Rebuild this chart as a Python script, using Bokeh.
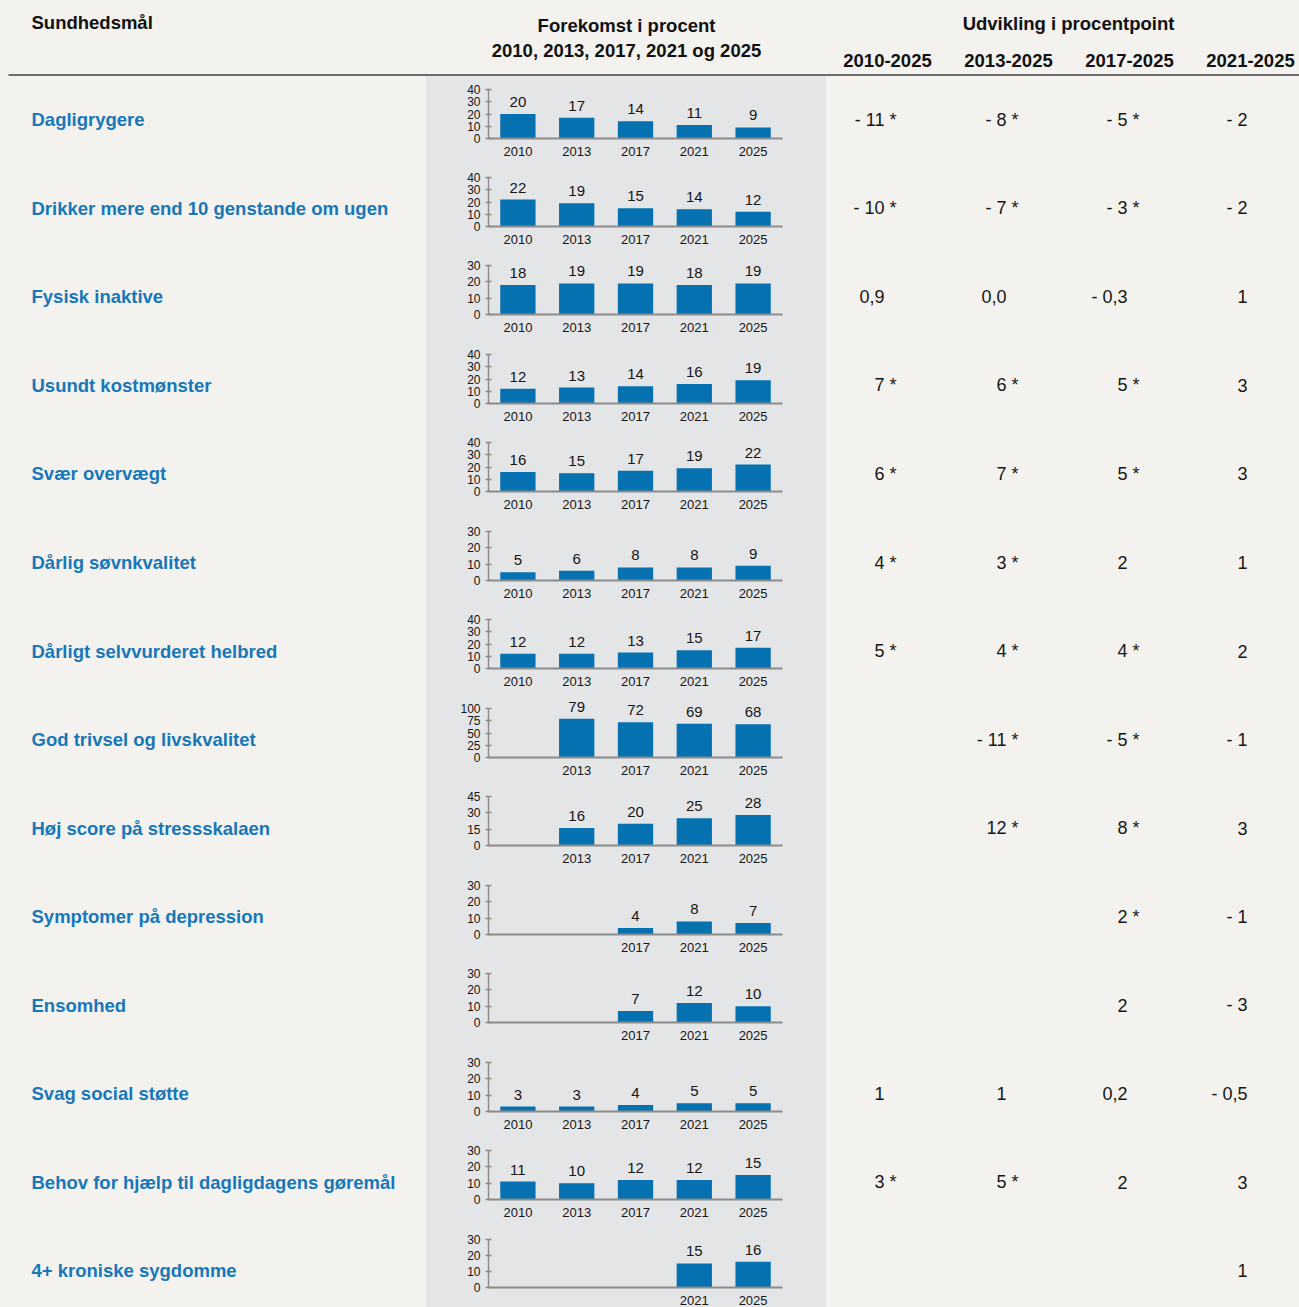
from bokeh.plotting import figure
from bokeh.models import Range1d, FixedTicker, ColumnDataSource, Label
from bokeh.layouts import column, row
from bokeh.embed import file_html
from bokeh.resources import INLINE
from bokeh.core.properties import value

# ---------------- data ----------------
years = ["2010", "2013", "2017", "2021", "2025"]

measures = [
    "Dagligrygere",
    "Drikker mere end 10 genstande om ugen",
    "Fysisk inaktive",
    "Usundt kostmønster",
    "Svær overvægt",
    "Dårlig søvnkvalitet",
    "Dårligt selvvurderet helbred",
    "God trivsel og livskvalitet",
    "Høj score på stressskalaen",
    "Symptomer på depression",
    "Ensomhed",
    "Svag social støtte",
    "Behov for hjælp til dagligdagens gøremål",
    "4+ kroniske sygdomme",
]

v_dagligrygere = [20, 17, 14, 11, 9]
v_drikker = [22, 19, 15, 14, 12]
v_inaktive = [18, 19, 19, 18, 19]
v_kost = [12, 13, 14, 16, 19]
v_overvaegt = [16, 15, 17, 19, 22]
v_soevn = [5, 6, 8, 8, 9]
v_helbred = [12, 12, 13, 15, 17]
v_trivsel = [None, 79, 72, 69, 68]
v_stress = [None, 16, 20, 25, 28]
v_depression = [None, None, 4, 8, 7]
v_ensomhed = [None, None, 7, 12, 10]
v_social = [3, 3, 4, 5, 5]
v_hjaelp = [11, 10, 12, 12, 15]
v_kroniske = [None, None, None, 15, 16]

y_top = [40, 40, 30, 40, 40, 30, 40, 100, 45, 30, 30, 30, 30, 30]
y_step = [10, 10, 10, 10, 10, 10, 10, 25, 15, 10, 10, 10, 10, 10]

periods = ["2010-2025", "2013-2025", "2017-2025", "2021-2025"]
chg_2010_2025 = [-11, -10, 0.9, 7, 6, 4, 5, None, None, None, None, 1, 3, None]
sig_2010_2025 = [1, 1, 0, 1, 1, 1, 1, 0, 0, 0, 0, 0, 1, 0]
chg_2013_2025 = [-8, -7, 0.0, 6, 7, 3, 4, -11, 12, None, None, 1, 5, None]
sig_2013_2025 = [1, 1, 0, 1, 1, 1, 1, 1, 1, 0, 0, 0, 1, 0]
chg_2017_2025 = [-5, -3, -0.3, 5, 5, 2, 4, -5, 8, 2, 2, 0.2, 2, None]
sig_2017_2025 = [1, 1, 0, 1, 1, 0, 1, 1, 1, 1, 0, 0, 0, 0]
chg_2021_2025 = [-2, -2, 1, 3, 3, 1, 2, -1, 3, -1, -3, -0.5, 3, 1]
sig_2021_2025 = [0] * 14

prevalence = [v_dagligrygere, v_drikker, v_inaktive, v_kost, v_overvaegt, v_soevn,
              v_helbred, v_trivsel, v_stress, v_depression, v_ensomhed, v_social,
              v_hjaelp, v_kroniske]
changes = [chg_2010_2025, chg_2013_2025, chg_2017_2025, chg_2021_2025]
signif = [sig_2010_2025, sig_2013_2025, sig_2017_2025, sig_2021_2025]

# ---------------- style / layout ----------------
BG = "#f3f2ee"
BAND = "#e4e5e7"
LABEL_BLUE = "#1777b8"
BAR = "#0571b0"
AXIS = "#8c8c8c"
INK = "#161616"
FONT = "Liberation Sans"

W, H = 1299, 1307
PITCH = 88.54
ROW0_CENTER = 119.3
BODY_TOP = 76
N = len(measures)


def fmt(v):
    a = abs(v)
    s = f"{a:.1f}".replace(".", ",") if a < 1 else f"{a:.0f}"
    return ("- " if v < 0 else "") + s


def text_fig(w, h, xr, yr):
    return figure(width=w, height=h, x_range=xr, y_range=yr, x_axis_type=None,
                  y_axis_type=None, toolbar_location=None, output_backend="svg",
                  min_border=0, outline_line_color=None,
                  background_fill_color=None, border_fill_color=BG)


# header
header = text_fig(W, BODY_TOP, Range1d(0, W), Range1d(BODY_TOP, 0))
head_items = [
    ("Sundhedsmål", 31, 22, "left"),
    ("Forekomst i procent", 626, 25, "center"),
    ("2010, 2013, 2017, 2021 og 2025", 626, 50, "center"),
    ("Udvikling i procentpoint", 1068, 23, "center"),
]
col_centers = [887, 1008, 1129, 1250]
for p, cx in zip(periods, col_centers):
    head_items.append((p, cx, 60, "center"))
for txt, x, y, al in head_items:
    header.add_layout(Label(x=x, y=y, text=txt, text_align=al, text_baseline="middle",
                            text_font=FONT, text_font_size="18.5px",
                            text_font_style="bold", text_color="#111111"))
header.segment(x0=[8], y0=[74.5], x1=[W], y1=[74.5], line_color="#6e6e6e", line_width=2)

# row-unit y range for the text columns
r_top = (BODY_TOP - ROW0_CENTER) / PITCH
r_bot = (H - ROW0_CENTER) / PITCH

left = text_fig(426, H - BODY_TOP, Range1d(0, 426), Range1d(r_bot, r_top))
lsrc = ColumnDataSource(dict(x=[31] * N, y=list(range(N)), t=measures))
left.text(x="x", y="y", text="t", source=lsrc, text_align="left", text_baseline="middle",
          text_font=value(FONT), text_font_size="18.5px", text_font_style="bold",
          text_color=LABEL_BLUE)

right = text_fig(W - 826, H - BODY_TOP, Range1d(826, W), Range1d(r_bot, r_top))
col_anchor = [884, 1006, 1127, 1247]
for k in range(4):
    xs, ys, ts, offs = [], [], [], []
    for i in range(N):
        v = changes[k][i]
        if v is None:
            continue
        star = bool(signif[k][i])
        xs.append(col_anchor[k])
        ys.append(i)
        ts.append(fmt(v) + (" *" if star else ""))
        offs.append(12 if star else 0)
    src = ColumnDataSource(dict(x=xs, y=ys, t=ts, o=offs))
    right.text(x="x", y="y", text="t", x_offset="o", source=src, text_align="right",
               text_baseline="middle", text_font=value(FONT), text_font_size="18px",
               text_color=INK)

# charts
bounds = [BODY_TOP] + [round(75.0 + PITCH * i) for i in range(1, N)] + [H]
charts = []
for i in range(N):
    h = bounds[i + 1] - bounds[i]
    Z = 62
    top = y_top[i]
    f = figure(width=400, height=h, x_range=Range1d(-0.5, 4.5),
               y_range=Range1d(0, top * Z / 49.0), toolbar_location=None,
               output_backend="svg", min_border_top=0, min_border_left=62,
               min_border_right=44, min_border_bottom=h - Z, outline_line_color=None,
               background_fill_color=None, border_fill_color=BAND)
    f.grid.visible = False
    vals = prevalence[i]
    idx = [j for j, v in enumerate(vals) if v is not None]
    src = ColumnDataSource(dict(x=idx, top=[vals[j] for j in idx],
                                lab=[str(vals[j]) for j in idx]))
    f.vbar(x="x", top="top", width=0.6, source=src, fill_color=BAR, line_color=None)
    f.text(x="x", y="top", text="lab", source=src, text_align="center",
           text_baseline="alphabetic", y_offset=-12, text_font=value(FONT),
           text_font_size="15px", text_color=INK)
    xa = f.xaxis[0]
    xa.ticker = FixedTicker(ticks=idx)
    xa.major_label_overrides = {j: years[j] for j in idx}
    xa.axis_line_color = AXIS
    xa.axis_line_width = 2
    xa.major_tick_line_color = None
    xa.minor_tick_line_color = None
    xa.major_label_standoff = 2
    xa.major_label_text_font = FONT
    xa.major_label_text_font_size = "13px"
    xa.major_label_text_color = INK
    ya = f.yaxis[0]
    ya.ticker = FixedTicker(ticks=list(range(0, top + 1, y_step[i])))
    ya.bounds = (0, top)
    ya.axis_line_color = AXIS
    ya.axis_line_width = 1.5
    ya.major_tick_line_color = AXIS
    ya.major_tick_line_width = 1.5
    ya.major_tick_in = 3
    ya.major_tick_out = 3
    ya.minor_tick_line_color = None
    ya.major_label_standoff = 5
    ya.major_label_text_font = FONT
    ya.major_label_text_font_size = "12px"
    ya.major_label_text_color = INK
    charts.append(f)

chart_col = column(*charts, styles={"background-color": BAND})
body = row(left, chart_col, right, styles={"background-color": BG})
layout = column(header, body, styles={"background-color": BG})

open("out.html", "w").write(file_html(layout, INLINE))
